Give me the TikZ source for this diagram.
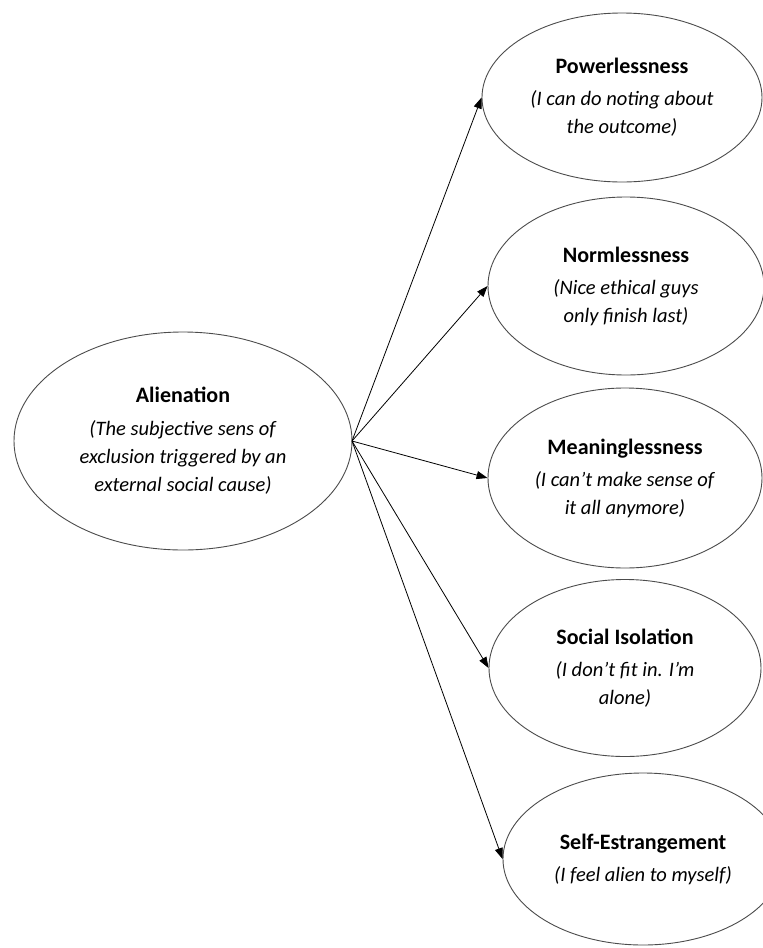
\documentclass[tikz,border=0pt]{standalone}
\usepackage{fontspec}
\setmainfont{Carlito}
\usetikzlibrary{shapes.geometric,arrows.meta}
\newcommand{\ttl}[1]{{\fontsize{22}{28.5}\selectfont\bfseries #1}}
\begin{document}
\begin{tikzpicture}[x=1pt,y=-1pt,
  oval/.style={ellipse,draw=black!70,line width=0.9pt,inner sep=0pt,align=center,
    font=\fontsize{20.5}{28}\selectfont},
  link/.style={draw=black,line width=0.8pt,-{Triangle[length=11pt,width=8pt]}}]
\useasboundingbox (0,0) rectangle (763,948);
\clip (0,0) rectangle (763,948);
\fill[white] (0,0) rectangle (763,948);
\node[oval,minimum width=338pt,minimum height=218pt] (al) at (183,441)
  {\ttl{Alienation}\\[5pt] \textit{(The subjective sens of}\\ \textit{exclusion triggered by an}\\ \textit{external social cause)}};
\coordinate (src) at (352,441);
\node[oval,minimum width=280pt,minimum height=169pt] (pw) at (622,97.5)
  {\ttl{Powerlessness}\\[4pt] \textit{(I can do noting about}\\ \textit{the outcome)}};
\node[oval,minimum width=276pt,minimum height=178pt] (nm) at (626,286)
  {\ttl{Normlessness}\\[4pt] \textit{(Nice ethical guys}\\ \textit{only finish last)}};
\node[oval,minimum width=274pt,minimum height=180pt] (mn) at (625,478)
  {\ttl{Meaninglessness}\\[4pt] \textit{(I can’t make sense of}\\ \textit{it all anymore)}};
\node[oval,minimum width=272pt,minimum height=177pt] (si) at (625,668)
  {\ttl{Social Isolation}\\[4pt] \textit{(I don’t fit in. I’m}\\ \textit{alone)}};
\node[oval,minimum width=280pt,minimum height=172pt] (se) at (643,859)
  {\ttl{Self-Estrangement}\\[4pt] \textit{(I feel alien to myself)}};
\draw[link] (src) -- (pw.west);
\draw[link] (src) -- (nm.west);
\draw[link] (src) -- (mn.west);
\draw[link] (src) -- (si.west);
\draw[link] (src) -- (se.west);
\end{tikzpicture}
\end{document}
